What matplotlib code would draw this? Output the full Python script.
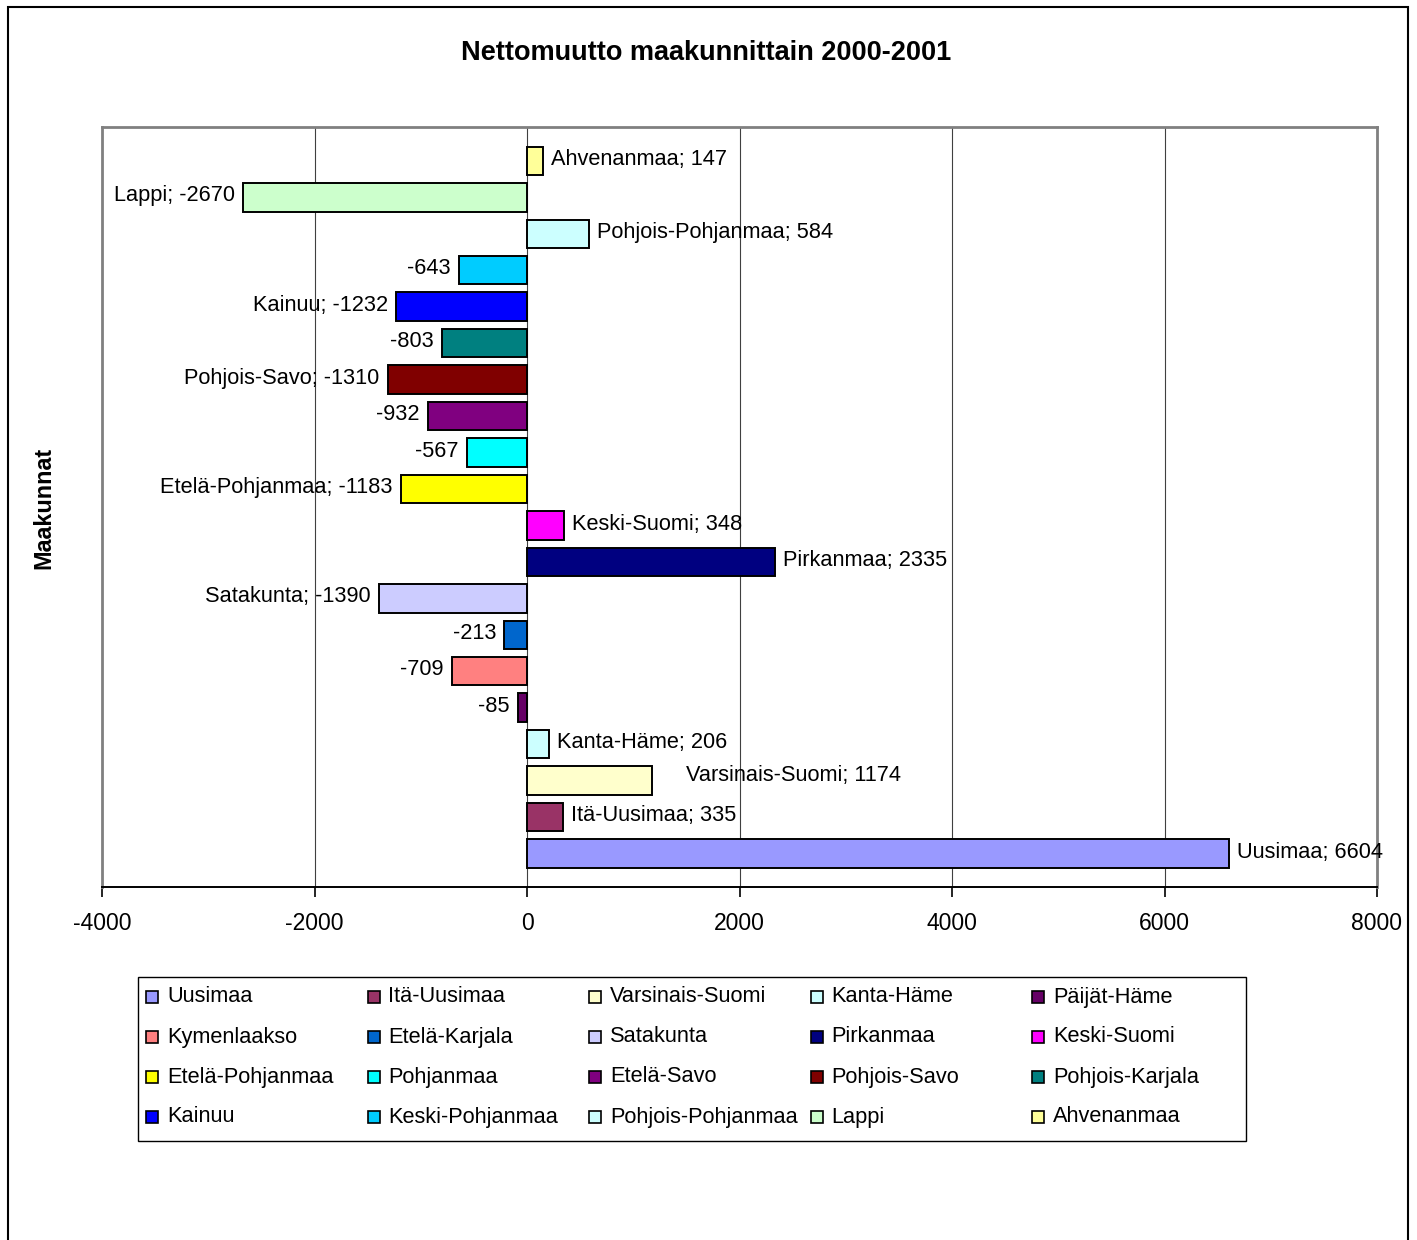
import matplotlib
matplotlib.use('Agg')
import matplotlib.pyplot as plt
from matplotlib.patches import Rectangle
import numpy as np

plt.rcParams['font.family'] = ['Liberation Sans', 'DejaVu Sans']

regions = ['Uusimaa', 'Itä-Uusimaa', 'Varsinais-Suomi', 'Kanta-Häme', 'Päijät-Häme',
           'Kymenlaakso', 'Etelä-Karjala', 'Satakunta', 'Pirkanmaa', 'Keski-Suomi',
           'Etelä-Pohjanmaa', 'Pohjanmaa', 'Etelä-Savo', 'Pohjois-Savo', 'Pohjois-Karjala',
           'Kainuu', 'Keski-Pohjanmaa', 'Pohjois-Pohjanmaa', 'Lappi', 'Ahvenanmaa']
values = [6604, 335, 1174, 206, -85, -709, -213, -1390, 2335, 348,
          -1183, -567, -932, -1310, -803, -1232, -643, 584, -2670, 147]
show_name = [True, True, True, True, False, False, False, True, True, True,
             True, False, False, True, False, True, False, True, True, True]
colors = ['#9999FF', '#993366', '#FFFFCC', '#CCFFFF', '#660066',
          '#FF8080', '#0066CC', '#CCCCFF', '#000080', '#FF00FF',
          '#FFFF00', '#00FFFF', '#800080', '#800000', '#008080',
          '#0000FF', '#00CCFF', '#CCFFFF', '#CCFFCC', '#FFFF99']
xticks = [-4000, -2000, 0, 2000, 4000, 6000, 8000]

W, H = 1417, 1240
fig = plt.figure(figsize=(W / 100, H / 100), dpi=100)
ax = fig.add_axes([102 / W, 1 - 887 / H, (1377 - 102) / W, (887 - 127) / H])

y = np.arange(len(regions))
ax.barh(y, values, height=0.78, color=colors, edgecolor='black', linewidth=1.4, zorder=3)

ax.set_xlim(-4000, 8000)
ax.set_ylim(-0.92, 19.93)
ax.set_xticks(xticks)
ax.set_xticklabels([str(t) for t in xticks], fontsize=16.5)
ax.set_yticks([])
ax.tick_params(axis='x', direction='out', length=7, width=1.2, pad=11)
ax.grid(axis='x', color='#404040', linewidth=0.8, zorder=0)
for s in ['top', 'left', 'right']:
    ax.spines[s].set_color('#808080')
    ax.spines[s].set_linewidth(2)
ax.spines['bottom'].set_color('black')
ax.spines['bottom'].set_linewidth(1.4)

# data labels
for i, (name, v) in enumerate(zip(regions, values)):
    txt = f'{name}; {v}' if show_name[i] else str(v)
    dx = 6 if v > 0 else -6
    dy = 1
    if name == 'Varsinais-Suomi':
        dx, dy = 25, 4
    ax.annotate(txt, (v, i), xytext=(dx, dy), textcoords='offset points',
                ha='left' if v > 0 else 'right', va='center', fontsize=15.7, zorder=4)

fig.text(706 / W, 1 - 53 / H, 'Nettomuutto maakunnittain 2000-2001',
         ha='center', va='center', fontsize=19.5, fontweight='bold')
fig.text(44 / W, 1 - 508 / H, 'Maakunnat', rotation=90, ha='center', va='center',
         fontsize=16.8, fontweight='bold')

# legend box, row-major like the original
fig.add_artist(Rectangle((138 / W, 1 - 1141 / H), (1246 - 138) / W, (1141 - 977) / H,
                         transform=fig.transFigure, facecolor='white', edgecolor='black',
                         linewidth=1.0))
for i, name in enumerate(regions):
    r, c = divmod(i, 5)
    x0 = 146 + c * 221.5
    y0 = 997 + r * 40
    fig.add_artist(Rectangle((x0 / W, 1 - (y0 + 6) / H), 12 / W, 12 / H,
                             transform=fig.transFigure, facecolor=colors[i],
                             edgecolor='black', linewidth=1.2))
    fig.text((x0 + 21) / W, 1 - y0 / H, name, ha='left', va='center', fontsize=15.7)

# outer chart border
fig.add_artist(Rectangle((8 / W, -0.05), 1400 / W, 1.05 - 7 / H,
                         transform=fig.transFigure, facecolor='none',
                         edgecolor='black', linewidth=1.5))

fig.savefig('out.png', dpi=100)
